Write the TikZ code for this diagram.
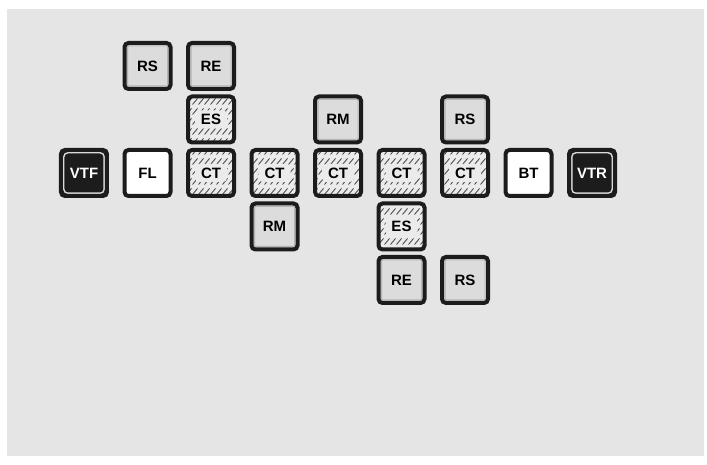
\documentclass[tikz,border=0pt]{standalone}
\usepackage{fontspec}
\setmainfont{Liberation Sans}
\usetikzlibrary{positioning,patterns}
\definecolor{pagegray}{HTML}{E5E5E5}
\definecolor{boxgray}{HTML}{DCDCDC}
\definecolor{rimgray}{HTML}{B4B4B4}
\definecolor{hatchfill}{HTML}{EBEBEB}
\definecolor{boxblack}{HTML}{1C1C1C}
\pgfdeclarepatternformonly{slashes}{\pgfqpoint{-1pt}{-1pt}}{\pgfqpoint{7pt}{11pt}}{\pgfqpoint{6pt}{10pt}}{%
  \pgfsetlinewidth{0.8pt}%
  \pgfpathmoveto{\pgfqpoint{0.5pt}{0.5pt}}%
  \pgfpathlineto{\pgfqpoint{5.5pt}{6.5pt}}%
  \pgfusepath{stroke}}
\tikzset{part/.style={rectangle,draw=boxblack,line width=4pt,rounded corners=4pt,minimum size=46pt,inner sep=0pt,
                      font=\fontsize{15}{18}\selectfont\bfseries},
         greybox/.style={part,fill=boxgray,
                      path picture={\draw[rimgray,line width=1pt,rounded corners=1pt]
                          ([shift={(3pt,3pt)}]path picture bounding box.south west) rectangle
                          ([shift={(-3pt,-3pt)}]path picture bounding box.north east);}},
         hatchbox/.style={part,fill=hatchfill,
                      path picture={\fill[pattern=slashes,pattern color=black!75]
                          (path picture bounding box.south west) rectangle (path picture bounding box.north east);
                          \fill[hatchfill] ([shift={(-16pt,-9pt)}]path picture bounding box.center) rectangle
                          ([shift={(16pt,9pt)}]path picture bounding box.center);}},
         whitebox/.style={part,fill=white},
         blackbox/.style={part,fill=boxblack,text=white,
                      path picture={\draw[white!85!black,line width=1.4pt]
                          ([shift={(2.8pt,2.8pt)}]path picture bounding box.south west) rectangle
                          ([shift={(-2.8pt,-2.8pt)}]path picture bounding box.north east);}},
}

\begin{document}
\begin{tikzpicture}[node distance=3.5pt and 13.5pt]
\useasboundingbox (-84pt,-292pt) rectangle (623pt,173pt);
\fill[pagegray] (-77pt,-283pt) rectangle (620pt,164pt);

% main row
\node[blackbox] (vtf) {VTF};
\node[whitebox, right=of vtf] (fl) {FL};
\node[hatchbox, right=of fl] (ct1) {CT};
\node[hatchbox, right=of ct1] (ct2) {CT};
\node[hatchbox, right=of ct2] (ct3) {CT};
\node[hatchbox, right=of ct3] (ct4) {CT};
\node[hatchbox, right=of ct4] (ct5) {CT};
\node[whitebox, right=of ct5] (bt) {BT};
\node[blackbox, right=of bt] (vtr) {VTR};

% above
\node[hatchbox, above=of ct1] (es1) {ES};
\node[greybox, above=of es1] (re1) {RE};
\node[greybox, left=of re1] (rs1) {RS};
\node[greybox, above=of ct3] (rm1) {RM};
\node[greybox, above=of ct5] (rs2) {RS};

% below
\node[greybox, below=of ct2] (rm2) {RM};
\node[hatchbox, below=of ct4] (es2) {ES};
\node[greybox, below=of es2] (re2) {RE};
\node[greybox, right=of re2] (rs3) {RS};
\end{tikzpicture}
\end{document}
